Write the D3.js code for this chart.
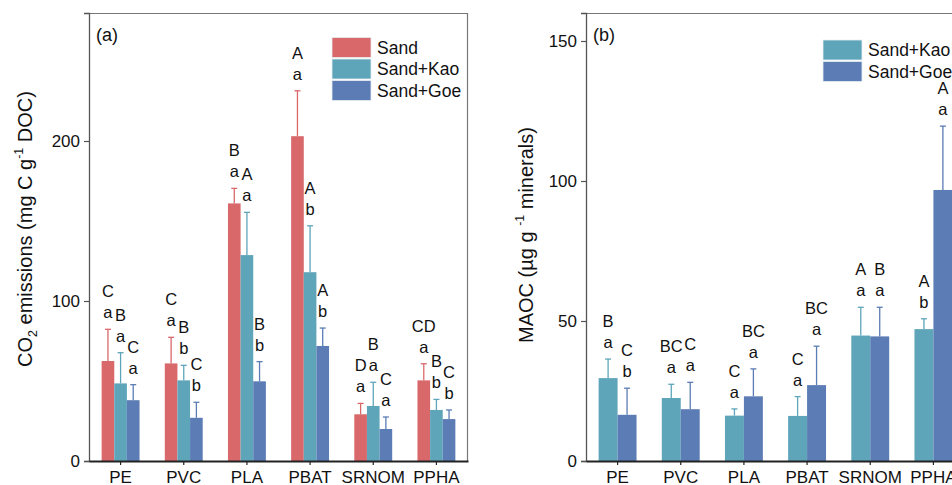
<!DOCTYPE html>
<html>
<head>
<meta charset="utf-8">
<script src="https://cdn.jsdelivr.net/npm/d3@7"></script>
<style>
  html, body { margin: 0; padding: 0; background: #fff; }
  svg { display: block; font-family: "Liberation Sans", Arial, sans-serif; }
</style>
</head>
<body>
<svg id="chart" width="952" height="485"></svg>
<script>
// ---------- data ----------
const categories = ["PE", "PVC", "PLA", "PBAT", "SRNOM", "PPHA"];

// Panel (a): CO2 emissions (mg C g-1 DOC)
const seriesA = ["Sand", "Sand+Kao", "Sand+Goe"];
const co2Sand    = [62.5, 61.0, 161.0, 203.0, 29.2, 50.4];
const co2SandErr = [19.8, 16.3, 9.4, 28.4, 6.8, 10.4];
const co2Kao     = [48.5, 50.4, 128.7, 118.0, 34.4, 31.9];
const co2KaoErr  = [19.2, 9.4, 26.7, 29.0, 14.8, 6.6];
const co2Goe     = [38.0, 27.0, 49.8, 71.9, 20.0, 26.2];
const co2GoeErr  = [9.7, 9.7, 12.3, 11.2, 7.5, 5.7];
const co2UpperSand = ["C", "C", "B", "A", "D", "CD"];
const co2LowerSand = ["a", "a", "a", "a", "a", "a"];
const co2UpperKao  = ["B", "B", "A", "A", "B", "B"];
const co2LowerKao  = ["a", "b", "a", "b", "a", "b"];
const co2UpperGoe  = ["C", "C", "B", "A", "C", "C"];
const co2LowerGoe  = ["a", "b", "b", "b", "a", "b"];
const co2Ticks = [0, 100, 200];

// Panel (b): MAOC (ug g-1 minerals)
const seriesB = ["Sand+Kao", "Sand+Goe"];
const maocKao    = [29.6, 22.5, 16.2, 16.1, 44.8, 47.1];
const maocKaoErr = [6.8, 4.9, 2.4, 6.9, 10.1, 3.7];
const maocGoe    = [16.5, 18.5, 23.1, 27.1, 44.5, 96.8];
const maocGoeErr = [9.5, 9.6, 9.8, 13.9, 10.4, 22.8];
const maocUpperKao = ["B", "BC", "C", "C", "A", "A"];
const maocLowerKao = ["a", "a", "a", "a", "a", "b"];
const maocUpperGoe = ["C", "C", "BC", "BC", "B", "A"];
const maocLowerGoe = ["b", "a", "a", "a", "a", "a"];
const maocTicks = [0, 50, 100, 150];

// ---------- style ----------
const colors = { "Sand": "#d9686b", "Sand+Kao": "#5ea5ba", "Sand+Goe": "#5b7cb5" };
const FONT_TICK = 17, FONT_LET = 16.5, FONT_LEG = 17.5, FONT_TITLE = 20, FONT_PANEL = 18;

const svg = d3.select("#chart");

function panel(opts) {
  const g = svg.append("g");
  const { left, right, top, bottom, yMax, ticks, series, values, errs, uppers, lowers,
          label, legendX, legendY, titleX, titleY, titleParts } = opts;

  const x = d3.scaleBand().domain(categories).range([left, right])
    .paddingInner(0.4).paddingOuter(0.2);
  const xs = d3.scaleBand().domain(series).range([0, x.bandwidth()]).padding(0);
  const y = d3.scaleLinear().domain([0, yMax]).range([bottom, top]);

  // frame top & right
  g.append("line").attr("x1", left).attr("x2", right).attr("y1", top + 0.5).attr("y2", top + 0.5)
    .attr("stroke", "#777").attr("stroke-width", 1.2);
  g.append("line").attr("x1", right - 0.5).attr("x2", right - 0.5).attr("y1", top).attr("y2", bottom)
    .attr("stroke", "#777").attr("stroke-width", 1.2);

  // bars
  series.forEach((s, si) => {
    const gs = g.append("g");
    categories.forEach((c, ci) => {
      const v = values[si][ci], e = errs[si][ci];
      const bx = x(c) + xs(s), bw = xs.bandwidth();
      gs.append("rect").attr("x", bx).attr("y", y(v)).attr("width", bw)
        .attr("height", y(0) - y(v)).attr("fill", colors[s]);
      const cx = bx + bw / 2;
      gs.append("line").attr("x1", cx).attr("x2", cx).attr("y1", y(v)).attr("y2", y(v + e))
        .attr("stroke", colors[s]).attr("stroke-width", 1.3);
      gs.append("line").attr("x1", cx - 3).attr("x2", cx + 3).attr("y1", y(v + e)).attr("y2", y(v + e))
        .attr("stroke", colors[s]).attr("stroke-width", 1.3);
      const ty = y(v + e);
      gs.append("text").attr("x", cx).attr("y", ty - 17).attr("dy", "0.36em")
        .attr("text-anchor", "middle").attr("font-size", FONT_LET).attr("fill", "#111")
        .text(lowers[si][ci]);
      gs.append("text").attr("x", cx).attr("y", ty - 38).attr("dy", "0.36em")
        .attr("text-anchor", "middle").attr("font-size", FONT_LET).attr("fill", "#111")
        .text(uppers[si][ci]);
    });
  });

  // y axis
  const yAxis = d3.axisLeft(y).tickValues(ticks).tickSize(5).tickPadding(4).tickFormat(d3.format("d"));
  const ya = g.append("g").attr("transform", `translate(${left},0)`).call(yAxis);
  ya.select(".domain").attr("stroke", "#555").attr("stroke-width", 1.3);
  ya.selectAll(".tick line").attr("stroke", "#555").attr("stroke-width", 1.2);
  ya.selectAll(".tick text").attr("font-size", FONT_TICK).attr("fill", "#111")
    .attr("font-family", "'Liberation Sans', Arial, sans-serif");

  // x axis
  const xAxis = d3.axisBottom(x).tickSize(4).tickSizeOuter(0).tickPadding(6);
  const xa = g.append("g").attr("transform", `translate(0,${bottom})`).call(xAxis);
  xa.select(".domain").attr("stroke", "#222").attr("stroke-width", 2);
  xa.selectAll(".tick line").attr("stroke", "#222").attr("stroke-width", 1.2);
  xa.selectAll(".tick text").attr("font-size", FONT_TICK).attr("fill", "#111")
    .attr("font-family", "'Liberation Sans', Arial, sans-serif");

  // panel label
  g.append("text").attr("x", left + 7).attr("y", top + 22).attr("dy", "0.36em")
    .attr("font-size", FONT_PANEL).attr("fill", "#111").text(label);

  // legend
  series.forEach((s, i) => {
    const ly = legendY + i * 21.5;
    g.append("rect").attr("x", legendX).attr("y", ly).attr("width", 39).attr("height", 20)
      .attr("fill", colors[s]).attr("stroke", "#e8eef2").attr("stroke-width", 0.8);
    g.append("text").attr("x", legendX + 45).attr("y", ly + 10).attr("dy", "0.36em")
      .attr("font-size", FONT_LEG).attr("fill", "#111").text(s);
  });

  // y title
  const t = g.append("text").attr("transform", `translate(${titleX},${titleY}) rotate(-90)`)
    .attr("text-anchor", "middle").attr("dy", "0.36em").attr("font-size", FONT_TITLE).attr("fill", "#111");
  titleParts.forEach(p => {
    const ts = t.append("tspan").text(p.t);
    if (p.sub) ts.attr("font-size", FONT_TITLE * 0.62).attr("dy", "0.35em");
    if (p.sup) ts.attr("font-size", FONT_TITLE * 0.62).attr("dy", "-0.75em");
    if (p.after) ts.attr("dy", p.after);
  });
}

panel({
  left: 89, right: 468, top: 13, bottom: 461, yMax: 280, ticks: co2Ticks,
  series: seriesA,
  values: [co2Sand, co2Kao, co2Goe], errs: [co2SandErr, co2KaoErr, co2GoeErr],
  uppers: [co2UpperSand, co2UpperKao, co2UpperGoe], lowers: [co2LowerSand, co2LowerKao, co2LowerGoe],
  label: "(a)", legendX: 332, legendY: 37.5, titleX: 25, titleY: 229,
  titleParts: [
    { t: "CO" }, { t: "2", sub: true }, { t: " emissions (mg C g", after: "-0.22em" },
    { t: "-1", sup: true }, { t: " DOC)", after: "0.47em" }
  ]
});

panel({
  left: 586, right: 965, top: 13, bottom: 461, yMax: 160, ticks: maocTicks,
  series: seriesB,
  values: [maocKao, maocGoe], errs: [maocKaoErr, maocGoeErr],
  uppers: [maocUpperKao, maocUpperGoe], lowers: [maocLowerKao, maocLowerGoe],
  label: "(b)", legendX: 823, legendY: 40, titleX: 526, titleY: 235,
  titleParts: [
    { t: "MAOC (\u00b5g g " }, { t: "-1", sup: true }, { t: " minerals)", after: "0.47em" }
  ]
});
</script>
</body>
</html>
